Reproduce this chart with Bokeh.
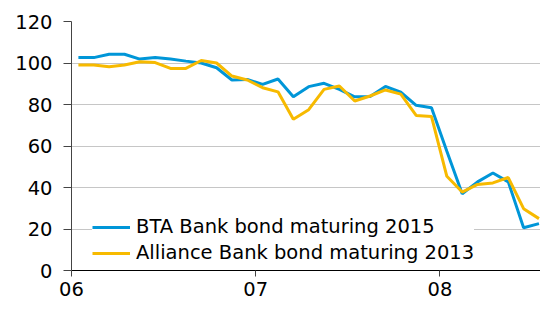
from bokeh.plotting import figure
from bokeh.models import FixedTicker, Range1d, Legend, LegendItem
from bokeh.embed import file_html
from bokeh.resources import INLINE

# months since Jan 2006 (observations fall a little after each month start)
months = [i + 0.45 for i in range(31)]

bta_2015 = [102.6, 102.6, 104.2, 104.2, 101.9, 102.7, 101.9, 100.9, 100.0, 97.7,
            91.8, 92.1, 89.7, 92.3, 83.7, 88.6, 90.2, 87.3, 83.7, 83.9,
            88.7, 85.9, 79.6, 78.4, 57.5, 37.0, 42.7, 47.0, 42.7, 20.6, 22.6]

alliance_2013 = [99.0, 99.0, 98.2, 99.0, 100.6, 100.2, 97.4, 97.4, 101.2, 100.0,
                 93.7, 91.8, 88.1, 86.1, 72.9, 77.5, 87.3, 88.9, 81.7, 84.1,
                 87.0, 85.0, 74.7, 74.2, 45.4, 37.8, 41.5, 42.2, 44.8, 29.8, 25.0]

x_ticks = [0, 12, 24]
x_tick_labels = ["06", "07", "08"]
y_ticks = [0, 20, 40, 60, 80, 100, 120]

blue = "#0096D8"
yellow = "#F7BA00"
font = "DejaVu Sans"

p = figure(width=540, height=304, output_backend="svg", toolbar_location=None,
           x_range=Range1d(0, 30.55), y_range=Range1d(0, 120),
           min_border_left=71, min_border_right=0, min_border_top=21,
           min_border_bottom=34)
p.outline_line_color = None
p.background_fill_color = "white"
p.border_fill_color = "white"

r1 = p.line(months, bta_2015, line_color=blue, line_width=3)
r2 = p.line(months, alliance_2013, line_color=yellow, line_width=3)

p.xgrid.visible = False
p.ygrid.grid_line_color = "#C6C6C6"
p.ygrid.grid_line_width = 1
p.ygrid.ticker = FixedTicker(ticks=y_ticks[1:])

p.xaxis.ticker = FixedTicker(ticks=x_ticks)
p.xaxis.major_label_overrides = {t: l for t, l in zip(x_ticks, x_tick_labels)}
p.xaxis.minor_tick_line_color = None
p.xaxis.major_tick_in = 0
p.xaxis.major_tick_out = 6
p.xaxis.axis_line_color = "black"
p.xaxis.major_tick_line_color = "#444444"
p.xaxis.major_label_standoff = 5
p.xaxis.major_label_text_font = font
p.xaxis.major_label_text_font_size = "19.5px"
p.xaxis.major_label_text_color = "black"

p.yaxis.ticker = FixedTicker(ticks=y_ticks)
p.yaxis.minor_tick_line_color = None
p.yaxis.major_tick_in = 0
p.yaxis.major_tick_out = 8
p.yaxis.axis_line_color = "#444444"
p.yaxis.major_tick_line_color = "#444444"
p.yaxis.major_label_standoff = 11
p.yaxis.major_label_text_font = font
p.yaxis.major_label_text_font_size = "19.5px"
p.yaxis.major_label_text_color = "black"

legend = Legend(items=[LegendItem(label="BTA Bank bond maturing 2015", renderers=[r1]),
                       LegendItem(label="Alliance Bank bond maturing 2013", renderers=[r2])],
                location=(21, 6), padding=8, spacing=3, glyph_width=38, glyph_height=22,
                label_height=22, label_standoff=6, label_text_font=font,
                label_text_font_size="19.5px", label_text_color="black",
                background_fill_color="white", background_fill_alpha=1.0,
                border_line_color=None, margin=0)
p.add_layout(legend, "center")

open("out.html", "w").write(file_html(p, INLINE))
